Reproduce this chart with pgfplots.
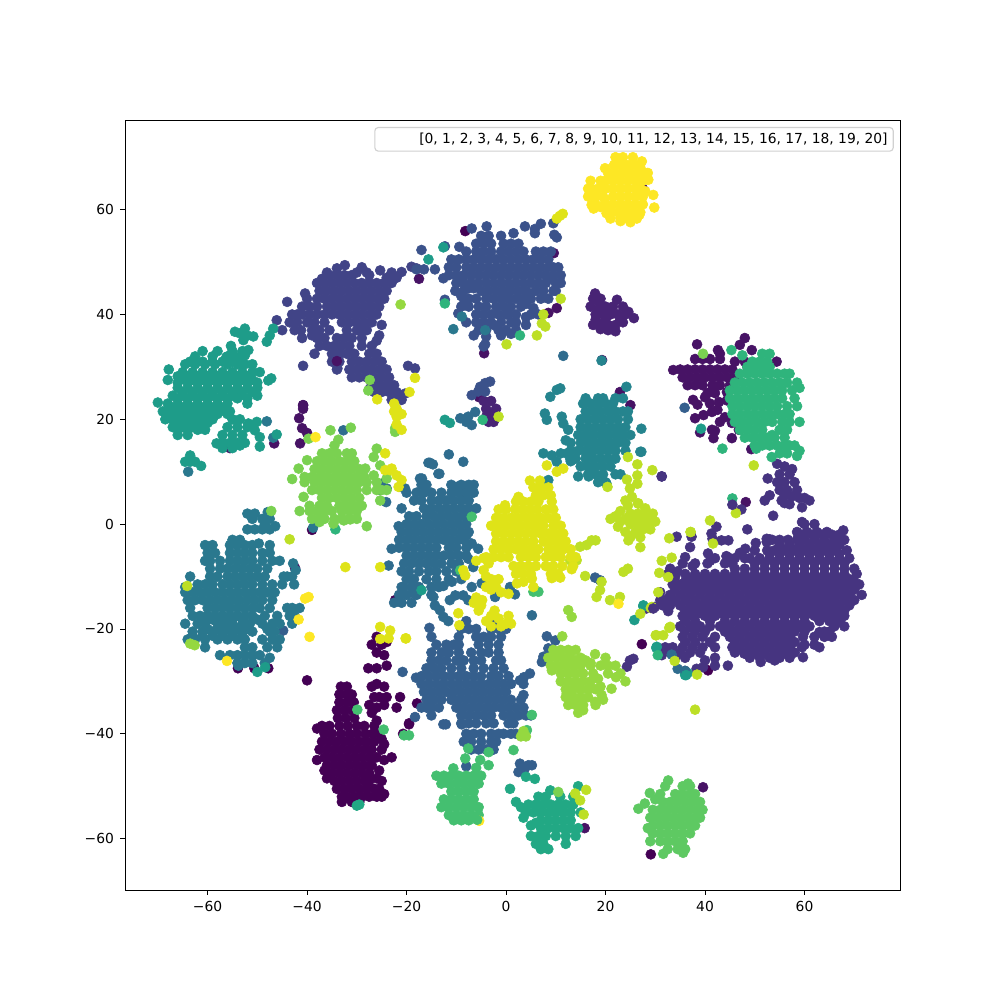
\documentclass[border=0pt]{standalone}
\usepackage{pgfplots}
\pgfplotsset{compat=1.18}
\usepackage{fontspec}
\setmainfont{DejaVu Sans}
\definecolor{c0}{HTML}{440154}
\definecolor{c1}{HTML}{471365}
\definecolor{c2}{HTML}{482475}
\definecolor{c3}{HTML}{463480}
\definecolor{c4}{HTML}{414487}
\definecolor{c5}{HTML}{3B528B}
\definecolor{c6}{HTML}{355F8D}
\definecolor{c7}{HTML}{2F6C8E}
\definecolor{c8}{HTML}{2A788E}
\definecolor{c9}{HTML}{25848E}
\definecolor{c11}{HTML}{1E9C89}
\definecolor{c12}{HTML}{22A884}
\definecolor{c13}{HTML}{2FB47C}
\definecolor{c14}{HTML}{44BF70}
\definecolor{c15}{HTML}{5EC962}
\definecolor{c16}{HTML}{7AD151}
\definecolor{c17}{HTML}{95D840}
\definecolor{c18}{HTML}{BDDF26}
\definecolor{c19}{HTML}{DFE318}
\definecolor{c20}{HTML}{FDE725}
\pgfplotsset{pt/.style={only marks,mark=*,mark size=3.6bp,color=#1,mark options={draw=none,fill=#1},forget plot}}
\begin{document}
\begin{tikzpicture}
\path[use as bounding box] (0,0) rectangle (10in,10in);
\fontsize{10}{12}\selectfont
\begin{axis}[
 at={(1.25in,1.10in)},anchor=south west,
 scale only axis,width=7.75in,height=7.7in,
 xmin=-76.6,xmax=79.2,ymin=-69.8,ymax=77.1,
 xtick={-60,-40,-20,0,20,40,60},xticklabels={−60,−40,−20,0,20,40,60},
 ytick={-60,-40,-20,0,20,40,60},yticklabels={−60,−40,−20,0,20,40,60},
 xtick pos=bottom,ytick pos=left,tick align=outside,
 major tick length=3.5bp,
 every tick/.style={black,line width=0.6bp},
 axis line style={black,line width=0.55bp},
 tick label style={font=\fontsize{10}{12}\selectfont},
 xticklabel style={yshift=-1bp},yticklabel style={xshift=-1bp},
 legend style={at={(0.992,0.991)},anchor=north east,rounded corners=2.5pt,draw=black!18,line width=0.8bp,fill=white,font=\fontsize{10}{12}\selectfont,inner xsep=2bp,inner ysep=2bp},
]
% 0
\addplot[pt=c0] coordinates {(-33.2,-31)(-32,-31)(-33.5,-32.5)(-32,-32.5)(-31,-32.5)(-33.5,-34)(-32,-34)(-30.6,-34)(-34,-35.5)(-32.5,-35.5)(-31,-35.5)(-30.2,-35.5)(-33.8,-37)(-32.2,-37)(-30.5,-37)
(-37,-38.5)(-35.5,-38.5)(-33.5,-38.5)(-31.8,-38.5)(-30,-38.5)(-28.5,-38.5)(-26.5,-38.5)
(-36.5,-40)(-35,-40)(-33.2,-40)(-31.5,-40)(-30,-40)(-28.3,-40)(-26.8,-40)(-25.5,-40)
(-35.5,-41.5)(-34,-41.5)(-32.5,-41.5)(-31,-41.5)(-29.5,-41.5)(-28,-41.5)(-26.5,-41.5)
(-36,-43)(-34.5,-43)(-33,-43)(-31.5,-43)(-30,-43)(-28.5,-43)(-27,-43)
(-36.5,-44.5)(-35,-44.5)(-33.5,-44.5)(-32,-44.5)(-30.5,-44.5)(-29,-44.5)(-27.5,-44.5)(-26,-44.5)(-24.5,-45)(-23,-44.5)
(-36,-46)(-34.5,-46)(-33,-46)(-31.5,-46)(-30,-46)(-28.5,-46)(-27,-46)
(-35,-47.5)(-33.5,-47.5)(-32,-47.5)(-30.5,-47.5)(-29,-47.5)(-27.5,-47.5)
(-34.5,-49)(-33,-49)(-31.5,-49)(-30,-49)(-28.5,-49)(-27.5,-49)
(-32.5,-50.5)(-31,-50.5)(-29.5,-50.5)(-28,-50.5)(-26.5,-50.5)(-25.5,-50.5)
(-32,-52)(-30.5,-52)(-29,-52)(-27.5,-52)(-26,-52)(-31,-53)(-29.5,-53)
(-27,-31)(-26,-30.5)(-24.5,-31)(-26.5,-33)(-25.5,-33)(-24,-33)(-27.5,-34.5)(-26,-35)(-24.5,-34.5)(-22,-35)(-27,-36)(-26,-37.5)
(-27,-23)(-26,-21.5)(-25,-23)(-26,-24.5)(-24,-22.5)(-24.5,-25)(-24,-27)(-27.7,-27.5)(-26,-27.5)
(-19.5,-38)(-20.7,-40)(-22.3,-14.5)(-40,-29.8)(-53.9,-27.5)(-50.6,-27.5)(-47.8,-27.5)(-39,-1.1)
(29.1,-63)(-8.2,55.9)(-8.2,5.9)(40.6,-27.9)(27.3,-22.9)(-21.3,-33)(-17.9,-34.2)(-19.5,-38.2)
(-25,-41)(-24.5,-42)(-25,-43)(-25.5,-47)(-26,-48.5)(-25,-49)(-38,-39)(-37.5,-43)(-38,-45)(-37,-41.5)(-36.5,-47)(-36,-48.5)(-25,-52)(-24.5,-51.5)(-34,-50.5)(-33,-52)(-33,-53)};
% 1
\addplot[pt=c1] coordinates {(48,35.5)(47,34.2)(38.4,34.3)(42.6,33.2)(43,32.5)(49.4,33.2)(54.4,31)
(38,31.5)(39.5,31.5)(41,31.5)(43,31.5)(33.6,29.4)(35,29.5)(36.5,29.5)(38,29.5)(39.5,29.5)(41,29.5)(42.5,29.5)(44,29.5)(45.5,29.5)
(35.5,28)(37,28)(38.5,28)(40,28)(41.5,28)(43,28)(44.5,28)(46,28)(36.5,26.5)(38,26.5)(39.5,26.5)(41.5,26.5)(43,26.5)(45,26.5)(41.4,25.5)(40.5,25)(42,25)
(37.6,23.7)(40,24.2)(44.4,25.2)(44.4,23.6)(38.5,22.8)(41,23)(42.8,23.3)(38,20.2)(39.7,20.8)(41.4,21.4)(42.5,21.8)(43,19.5)(44,20.4)(45.4,19.3)(46.8,18)(41.4,18)(42,17.8)(41.7,16.4)(45.4,16.4)(39,17.5)(49.3,14.3)(48.5,30)(46,31)(48,31)
(-40.8,22.7)(-40.8,22)(-41.6,20.2)(-41,18.3)(-40,17.4)(-41.4,15.4)(-46.6,15.4)(-34,31.1)(-34.6,31)(-17.5,46.8)(-55.5,14.5)(-42.4,-8.4)
(-4.4,32.6)(9.6,51.7)(8.5,40.3)(10.2,41.2)(19.3,31.3)(27.5,64)(22.9,25.2)(25,22.7)(-5.4,24.2)(48.2,4.2)(15.8,-58)(39.6,-50.2)};
% 2
\addplot[pt=c2] coordinates {(17.9,44)(17.5,43)(18.5,42.5)(17,41.5)(18.5,41)(20,41.5)(21.5,41.5)(22.3,42.8)(23.5,41.5)(18,40)(19.5,40)(21,40)(22.5,40)(24,40)(24.6,40.5)(25.7,39.3)(17.5,38)(19,38)(20.5,38)(22,38)(23.5,38.5)(19,37.2)(22,36.8)
(20,39)(21,41)(23,39)(19,43)(18,39)(20.5,37)(19.5,41)
(-4.5,23.5)(-3,23.5)(-2,22)(-4,22)(-3,21)(-1.8,20.5)(-3.5,19.5)(-2.5,19.5)(-4,20.5)};
% 3
\addplot[pt=c3] coordinates {(54.5,11.5)(56,11)(57.5,10.5)(55,9.5)(57,9.5)(54.5,8)(56,8)(58,8)(55,6.5)(56.5,6.5)(58.5,6.5)(56,5.5)(57.5,5.3)(60,5)(61,4.5)(59,5)(56,4)(55.4,4.5)(57,3.8)(59.5,3.2)(52,4.5)(53,5.5)(52.6,8.7)(53.7,1.6)(59.5,0.4)
(60,0)(62,0)(58.5,-1.5)(60.5,-1.5)(62.5,-1.5)(64.5,-1.5)(67.8,-1.2)
(53.5,-3)(55,-3)(56.7,-3)(58.5,-3)(60,-3)(62,-3)(64,-3)(66,-3)(68,-3)
(52.4,-2.8)(52.5,-5)(54,-5)(56,-5)(58,-5)(60,-5)(62,-5)(64,-5)(66,-5)(68.5,-5)
(49,-6.5)(51,-6.5)(53,-6.5)(55,-6.5)(57,-6.5)(59,-6.5)(61,-6.5)(63,-6.5)(65,-6.5)(67,-6.5)(69,-6.5)
(35.5,-7.5)(40.5,-7.5)(44,-7.5)(45.5,-7.5)(46,-8.5)(48,-8.5)(50,-8.5)(52,-8.5)(54,-8.5)(56,-8.5)(58,-8.5)(60,-8.5)(62,-8.5)(64,-8.5)(66,-8.5)(68,-8.5)(70,-8.5)
(36,-9.5)(38,-9.5)(40,-9.5)(42,-9.5)(44,-9.5)(46,-9.5)(48,-9.5)(50,-9.5)(52,-9.5)(54,-9.5)(56,-9.5)(58,-9.5)(60,-9.5)(62,-9.5)(64,-9.5)(66,-9.5)(68,-9.5)(70.5,-9.5)
(33.5,-11.5)(35,-11.5)(37,-11.5)(39,-11.5)(41,-11.5)(43,-11.5)(45,-11.5)(47,-11.5)(49,-11.5)(51,-11.5)(53,-11.5)(55,-11.5)(57,-11.5)(59,-11.5)(61,-11.5)(63,-11.5)(65,-11.5)(67,-11.5)(69,-11.5)(71,-11.5)
(31,-13)(33,-13.5)(35,-13.5)(37,-13.5)(39,-13.5)(41,-13.5)(43,-13.5)(45,-13.5)(47,-13.5)(49,-13.5)(51,-13.5)(53,-13.5)(55,-13.5)(57,-13.5)(59,-13.5)(61,-13.5)(63,-13.5)(65,-13.5)(67,-13.5)(69,-13.5)(71.5,-13.5)
(31.5,-15.5)(33,-15.5)(35,-15.5)(37,-15.5)(39,-15.5)(41,-15.5)(43,-15.5)(45,-15.5)(47,-15.5)(49,-15.5)(51,-15.5)(53,-15.5)(55,-15.5)(57,-15.5)(59,-15.5)(61,-15.5)(63,-15.5)(65,-15.5)(67,-15.5)(69,-15.5)
(35.5,-17.5)(37.5,-17.5)(40,-17.5)(42,-17.5)(44,-17.5)(46,-17.5)(48,-17.5)(50,-17.5)(52,-17.5)(54,-17.5)(56,-17.5)(58,-17.5)(60,-17.5)(62,-17.5)(64,-17.5)(66,-17.5)(68,-17.5)
(35,-19.5)(37,-19.5)(39,-19.5)(41,-19.5)(43,-19.5)(45,-19.5)(47,-19.5)(49,-19.5)(51,-19.5)(53,-19.5)(55,-19.5)(57,-19.5)(59,-19.5)(61,-19.5)(63,-20.6)(66,-19.5)(68,-19.5)
(35.5,-21.5)(37.5,-21.5)(39.5,-21.5)(42,-21.5)(45,-21.5)(47,-21.5)(49,-21.5)(51,-21.5)(53,-21.5)(55,-21.5)(57,-21.5)(59.7,-21.5)(62,-21.5)(64,-21.5)(65.5,-21.5)
(32,-23.5)(33.5,-23.5)(35.5,-23.5)(37.5,-23.5)(39.5,-23.5)(42,-23.5)(45.5,-23.5)(47,-23.5)(49,-23.5)(51,-23.5)(53,-23.5)(55,-23.5)(57,-23.5)(59.5,-23.5)(63,-23.5)
(31.3,-25)(34,-25.5)(36,-25.5)(40,-26)(42,-25.5)(47.9,-24.7)(49,-25.5)(51,-25.5)(53,-25.5)(55,-25.5)(57,-25.5)(59.7,-25.4)
(51.2,-26.3)(54,-26)(44.6,-27)(42,-27)(36,-28)(38.3,-27.6)(39.6,-27.3)
(37.3,-2.4)(37,-4.4)(36,-6.3)(34.3,-2.4)(40.6,-5.6)(41.3,-1.8)(41.5,-2.8)(43.3,-3.1)(44.7,-3.1)(48.5,-1)(50.2,-3.6)(44.3,-6.1)(48.1,-4.7)(52.4,-3.4)(53,-2.9)(42.3,-0.5)
(32.6,-16.6)(29.9,-15.8)(28.2,-16.1)(31.3,9.1)(47.3,2.8)(24.9,-26)(25.6,-25.7)(24.3,-27.2)(32.6,-9.5)(33,-8.5)(34.5,-9)(34,-10)(31,-14.5)
(59.5,-2)(61.5,-2)(63.5,-2)(65.5,-2)(67,-2)(55,-4)(57,-4)(59,-4)(61,-4)(63,-4)(65,-4)(67,-4)(53,-5.7)(55,-5.7)(57,-5.7)(59,-5.7)(61,-5.7)(63,-5.7)(65,-5.7)(67,-5.7)
(50,-7.5)(52,-7.5)(54,-7.5)(56,-7.5)(58,-7.5)(60,-7.5)(62,-7.5)(64,-7.5)(66,-7.5)(68,-7.5)
(37,-10.5)(39,-10.5)(41,-10.5)(43,-10.5)(45,-10.5)(47,-10.5)(49,-10.5)(51,-10.5)(53,-10.5)(55,-10.5)(57,-10.5)(59,-10.5)(61,-10.5)(63,-10.5)(65,-10.5)(67,-10.5)(69,-10.5)
(34,-12.5)(36,-12.5)(38,-12.5)(40,-12.5)(42,-12.5)(44,-12.5)(46,-12.5)(48,-12.5)(50,-12.5)(52,-12.5)(54,-12.5)(56,-12.5)(58,-12.5)(60,-12.5)(62,-12.5)(64,-12.5)(66,-12.5)(68,-12.5)(70,-12.5)
(32,-14.5)(34,-14.5)(36,-14.5)(38,-14.5)(40,-14.5)(42,-14.5)(44,-14.5)(46,-14.5)(48,-14.5)(50,-14.5)(52,-14.5)(54,-14.5)(56,-14.5)(58,-14.5)(60,-14.5)(62,-14.5)(64,-14.5)(66,-14.5)(68,-14.5)(70,-14.5)
(36,-16.5)(38,-16.5)(40,-16.5)(42,-16.5)(44,-16.5)(46,-16.5)(48,-16.5)(50,-16.5)(52,-16.5)(54,-16.5)(56,-16.5)(58,-16.5)(60,-16.5)(62,-16.5)(64,-16.5)(66,-16.5)(68,-16.5)
(36,-18.5)(38,-18.5)(41,-18.5)(44,-18.5)(46,-18.5)(48,-18.5)(50,-18.5)(52,-18.5)(54,-18.5)(56,-18.5)(58,-18.5)(60,-18.5)(63,-18.5)(65,-18.5)(67,-18.5)
(36,-20.5)(38,-20.5)(40,-20.5)(44,-20.5)(46,-20.5)(48,-20.5)(50,-20.5)(52,-20.5)(54,-20.5)(56,-20.5)(58,-20.5)(60,-20.5)(64,-20.5)
(36,-22.5)(38,-22.5)(41,-22.5)(46,-22.5)(48,-22.5)(50,-22.5)(52,-22.5)(54,-22.5)(56,-22.5)(58,-22.5)
(33,-24.5)(35,-24.5)(37,-24.5)(39,-24.5)(46,-24.5)(48,-24.5)(50,-24.5)(52,-24.5)(54,-24.5)(56,-24.5)(58,-24.5)
(36,-11)(38,-11)(40,-11)(42,-11)(44,-11)(46,-11)(48,-11)(50,-11)(52,-11)(54,-11)(56,-11)(58,-11)(60,-11)(62,-11)(64,-11)(66,-11)(68,-11)(70,-11)
(37,-17)(39,-17)(41,-17)(43,-17)(45,-17)(47,-17)(49,-17)(51,-17)(53,-17)(55,-17)(57,-17)(59,-17)(61,-17)(63,-17)(65,-17)(67,-17)
(47,-5.5)(46,-6.5)(50,-5)(48,-6.5)(45,-6.5)(42,-6.5)(41,-7)(38,-7.5)(37.5,-8)(62,-23)(60,-23)(65,-20.5)};
% 4
\addplot[pt=c4] coordinates {(-32.4,49.4)(-34,48.8)(-37,46.8)(-35.5,47.5)(-34,47.5)(-32.5,47.5)(-31,47.5)(-27.5,47.5)(-25.3,48.4)
(-38,46)(-36.5,46)(-35,46)(-33.5,46)(-32,46)(-30.5,46)(-29,46)(-27.5,46)(-26,46)(-24.5,46)(-23,46)(-21,48.1)
(-37.5,44.5)(-36,44.5)(-34.5,44.5)(-33,44.5)(-31.5,44.5)(-30,44.5)(-28.5,44.5)(-27,44.5)(-25.5,44.5)(-24,44.5)
(-40.4,44)(-38,43)(-36.5,43)(-35,43)(-33.5,43)(-32,43)(-30.5,43)(-29,43)(-27.5,43)(-26,43)(-24.5,43)
(-44,42.4)(-41,41.5)(-39.5,41.5)(-38,41.5)(-36,41.5)(-34.5,41.5)(-33,41.5)(-31.5,41.5)(-30,41.5)(-28.5,41.5)(-27,41.5)(-25.5,41.5)
(-41,40)(-39.5,40)(-38,40)(-36.5,40)(-35,40)(-33.5,40)(-32,40)(-30.5,40)(-29,40)(-27.5,40)(-26,40)
(-46.1,38.9)(-43.5,38.5)(-42,38.5)(-40,38.5)(-38.5,38.5)(-36.5,38.5)(-33,38.5)(-31.5,38.5)(-30,38.5)(-28.5,38.5)(-27,38.5)
(-45,37)(-42.5,37)(-41.2,37)(-39,37)(-37.5,37)(-35.5,37)(-32,37)(-30,37)(-29,37)(-28,37)
(-38,35.5)(-36.5,35.5)(-34,35.5)(-32.5,35.5)(-31,35.5)(-29,35.5)
(-37.5,34)(-36,34)(-34.5,34)(-33,34)(-31.5,34)(-29,34)(-27,34)(-38.5,32.5)(-35,32.5)(-33.5,32.5)(-32,32.5)(-30.5,32.5)(-27.5,32.5)(-26,32.5)
(-35,31)(-33.5,31)(-31,31)(-29.5,31)(-28,31)(-26.5,31)(-25,31)(-34,29.5)(-31.5,29.5)(-30,29.5)(-28.5,29.5)(-27,29.5)(-25.5,29.5)(-24,29.5)
(-33.9,29.7)(-31,28)(-29.5,28)(-28,28)(-26.5,28)(-25,28)(-23.5,28)(-27,26.5)(-25.5,26.5)(-24,26.5)(-22.5,26.5)(-26.5,25.2)(-25,25.2)(-23.5,25.2)(-22,25.2)(-27.4,25.8)(-23,23.7)(-22,23.7)(-21,23.7)(-21.7,24.6)(-20.3,24.9)
(-40.8,30.2)(-19,49.1)(-18,48.8)(-19.7,30.2)(-18.3,29.7)
(-24,47)(-22,47)(-23,48)(-40,43)(-42,40)(-43,40)(-41,35.5)(-39,36)(-28,48)(-30,48)(-29,49)(-36,48)(-25,38)(-25.5,36)(-26,35)};
% 5
\addplot[pt=c5] coordinates {(-3.9,56.8)(-5,55)(-3.5,55)(-1,55)(1.5,55.5)(-6,53.5)(-4.5,53.5)(-3,53.5)(-0.5,53.5)(1,53.5)(2.5,53.5)
(-9.4,52.9)(-8,52)(-6,52)(-4.5,52)(-3,52)(-1,52)(0.5,52)(2,52)(3.5,52)(6,52)(7.5,52)(9,52)
(-11,50.5)(-9.5,50.5)(-8,50.5)(-6.5,50.5)(-5,50.5)(-3.5,50.5)(-2,50.5)(-0.5,50.5)(1,50.5)(2.5,50.5)(4,50.5)(5.5,50.5)(7,50.5)(8.5,50.5)
(-11.5,49)(-10,49)(-8,49)(-6.5,49)(-5,49)(-3.5,49)(-2,49)(-0.5,49)(1,49)(2.5,49)(4,49)(5.5,49)(7,49)(8.5,49)(9.5,49)
(-11.5,47.5)(-10,47.5)(-8.5,47.5)(-7,47.5)(-5.5,47.5)(-4,47.5)(-2.5,47.5)(-1,47.5)(0.5,47.5)(2,47.5)(3.5,47.5)(5,47.5)(6.5,47.5)(8,47.5)(9.5,47.5)
(-10,46)(-8.5,46)(-7,46)(-5.5,46)(-4,46)(-2.5,46)(-1,46)(0.5,46)(2,46)(3.5,46)(5,46)(6.5,46)(8,46)(10,46)
(-5,44.5)(-3.5,44.5)(-2,44.5)(-0.5,44.5)(1,44.5)(2.5,44.5)(6,44.5)(7.5,44.5)(9.5,44.5)(-9.6,46.6)
(-7.5,43)(-6,43)(-4,43)(-2.5,43)(-1,43)(0.5,43)(2,43)(7,43)(8.5,43)
(-7.5,41.5)(-5.5,41.5)(-4,41.5)(-2,41.5)(1,41.5)(3,41.5)(5.5,41.2)
(-6,40)(-4.5,40)(-3,40)(-1.5,40)(0.5,40)(2,40)(5,40)(6.5,40)
(-9.6,40.2)(-8,38.5)(-6,38.5)(-4.5,38.5)(-3,38.5)(-1,38.5)(1,38.5)(2,38.5)
(-5.5,37)(-4,37)(-1.5,37)(0,37)(2,37)
(3.8,56.8)(5.8,55.5)(5.8,56.3)(7,57.3)(9.5,57.4)(9.7,55.2)(10.2,54.7)(-6.9,56.4)(-10.2,44.5)(-12.3,42.8)(-12.6,46.9)(-17,52.3)(-12.3,53)(-14.3,48.6)(-16.5,48.6)(-18,48.6)(-4.5,33.9)(-4.2,34.3)
(-5.2,26.2)(-4.2,26.9)(-3.2,27.2)(-5.6,25.3)(-4.2,25.3)(-6.9,24.6)
(4,44.5)(5,43)(4,42)(5,44)(3.5,43)(9,47)(11,47.5)(10.5,49)(11,46)(10,44.5)(-8.5,44.5)(-7.5,45)(-6.5,45)(-9,43.5)(-8.5,42)(-9,41.5)(-6.5,36)(-4,35.8)(-1,36)(1,36.3)(-2.5,38)(0,40)(-0.5,41.5)(4,39.5)(4,38)(-0.5,43.5)};
% 6
\addplot[pt=c6] coordinates {(-8,-18.5)(-3,-18.5)(-1.9,-19)(-9,-20)(-7.5,-20)(-6,-20)(-3,-20)(-1.5,-20)(0,-20)
(-15,-21.5)(-9.5,-21.5)(-6,-21.5)(-4.5,-21.5)(-3,-21.5)(-1,-21.5)(-14,-23)(-12,-23)(-10.5,-23)(-9.5,-23)(-5.5,-23)(-3.5,-23)(-1.5,-23)
(-15,-24.5)(-13,-24.5)(-11.5,-24.5)(-9.5,-24.5)(-7,-24.5)(-5,-24.5)(-3.5,-24.5)(-1.5,-24.5)
(-15,-26)(-13.5,-26)(-12,-26)(-10,-26)(-8.5,-26)(-6.5,-26)(-5,-26)(-2,-26)(-1,-26)
(-16,-27.5)(-14.5,-27.5)(-13,-27.5)(-11,-27.5)(-9,-27.5)(-6.5,-27.5)(-4.5,-27.5)(-2.5,-27.5)(-0.5,-27.5)
(-17,-29)(-15.5,-29)(-14,-29)(-12.5,-29)(-11,-29)(-9.5,-29)(-8,-29)(-6.5,-29)(-5,-29)(-3,-29)(-1.5,-29)(0.5,-29)
(-17,-30.5)(-15.5,-30.5)(-14,-30.5)(-12.5,-30.5)(-11,-30.5)(-9.5,-30.5)(-8,-30.5)(-6.5,-30.5)(-5,-30.5)(-3.5,-30.5)(-2,-30.5)(-0.5,-30.5)(1,-30.5)(3.5,-30.5)
(-16.5,-32)(-15,-32)(-13.5,-32)(-12,-32)(-10.5,-32)(-9,-32)(-7.5,-32)(-6,-32)(-4.5,-32)(-3,-32)(-1.5,-32)(0,-32)
(-16,-33.5)(-14.5,-33.5)(-13,-33.5)(-11,-33.5)(-9.5,-33.5)(-8,-33.5)(-6.5,-33.5)(-5,-33.5)(-3.5,-33.5)(-2,-33.5)(-0.5,-33.5)(1,-33.5)(3,-33.5)
(-17,-35)(-16,-35)(-15,-35)(-13.5,-35)(-10,-35)(-8.5,-35)(-7,-35)(-5.5,-35)(-4,-35)(-2.5,-35)(-1,-35)(0.5,-35)(2,-35)(3.5,-35)
(-15,-36.5)(-9,-36.5)(-7.5,-36.5)(-6,-36.5)(-4.5,-36.5)(-3,-36.5)(-0.5,-36.5)(1,-36.5)(2.5,-36.5)(4,-36.5)(5,-36.5)
(-9,-38)(-7.5,-38)(-6,-38)(-4,-38)(-2.5,-38)(0.5,-38)(1.5,-38)(-12.1,-38.2)(-12.6,-38.2)(-8.9,-38.2)
(-8,-40)(-6.5,-40)(-5,-40)(-3,-40)(-1.5,-40)(-0.5,-40)(1,-40)(2,-40)(-8.5,-41.5)(-7,-41.5)(-5,-41.5)(-3,-41.5)(-2,-41.5)(-7,-43)(-5.5,-43)(-4,-43)(-2.5,-43)(-8,-46.2)
(4.8,-28.5)(3.6,-29.2)(2.8,-29.8)(-18.1,-29.3)(-20.8,-28.2)(-18.3,-36.8)(3.5,-32.6)
(2.8,-45.7)(4.5,-46)(2.5,-47.3)(5.2,-46)(3.7,-46.8)(8.2,-21.4)(9.9,-22.2)(8.5,-23.7)(7.5,-25.3)(7.2,-26.3)
(17.9,-10.2)(18.9,-10.7)(-15.4,-19.8)(-44.8,-20.3)(35.9,22.2)};
% 7
\addplot[pt=c7] coordinates {(-11.5,13.3)(-15.6,11.7)(-14.7,11.4)(-13.4,9.6)(-16.9,8.7)(-21.3,7.1)(-20.3,6.8)(-8.6,11.9)
(-17,7.5)(-16,7.5)(-11,7.5)(-9,7.5)(-7.5,7.5)(-6.5,7.5)(-20,6)(-18,6)(-16.5,6)(-15,6)(-13,6)(-11,6)(-9.5,6)(-8,6)(-6.5,6)
(-18.5,4.5)(-17,4.5)(-15,4.5)(-13.5,4.5)(-12,4.5)(-10.5,4.5)(-9,4.5)(-7.5,4.5)(-21,3)(-16.5,3)(-15,3)(-13.5,3)(-12,3)(-10.5,3)(-9,3)(-7.5,3)(-6,3)
(-19.5,1.5)(-18,1.5)(-16,1.5)(-14.5,1.5)(-13,1.5)(-11.5,1.5)(-10,1.5)(-8.5,1.5)(-7,1.5)
(-20,0)(-18.5,0)(-17,0)(-15.5,0)(-14,0)(-12.5,0)(-11,0)(-9.5,0)(-8,0)
(-21.6,-0.4)(-21,-1.5)(-19.5,-1.5)(-18,-1.5)(-16.5,-1.5)(-15,-1.5)(-13.5,-1.5)(-12,-1.5)(-10.5,-1.5)(-9,-1.5)(-7.5,-1.5)
(-23,-4.7)(-21.5,-3)(-20,-3)(-18.5,-3)(-17,-3)(-15.5,-3)(-14,-3)(-12.5,-3)(-11,-3)(-9.5,-3)(-8.5,-3)
(-21.5,-4.5)(-20,-4.5)(-18.5,-4.5)(-17,-4.5)(-15.5,-4.5)(-14,-4.5)(-11.5,-4.5)(-10,-4.5)(-8,-4.5)
(-20,-6)(-18.5,-6)(-17,-6)(-15.5,-6)(-14,-6)(-12.5,-6)(-11,-6)(-9.5,-6)(-8,-6)
(-20.5,-7.5)(-19,-7.5)(-17.5,-7.5)(-16,-7.5)(-14.5,-7.5)(-13,-7.5)(-11,-7.5)(-9.5,-7.5)(-23.6,-7.9)
(-21,-9)(-19.5,-9)(-17.5,-9)(-15.5,-9)(-14,-9)(-12,-9)(-10,-9)(-20,-10.5)(-18.5,-10.5)(-16,-10.5)(-14,-10.5)(-11.5,-10.5)(-9,-10.5)
(-21,-12)(-19,-12)(-17.5,-12)(-15,-12)(-13.5,-12)(-21.5,-13.5)(-20,-13.5)(-18,-13.5)(-15,-13.5)(-22.5,-15)(-21,-15)(-19,-15)
(-20.6,-12)(-18.6,-13.2)(-14.6,-13.9)(-12.6,-11.8)(-10.9,-11)(-11.3,-14.5)(-10.2,-13.6)(-8.6,-13.6)(-7.6,-14.5)(-6.9,-12)(-4.9,-11.3)(-2.2,-13.9)(0.8,-12)(1.8,-13.4)(-13.3,-16.4)(-12.6,-17.7)(-11.6,-18.5)(-14.3,-15.5)(5.2,-17.4)
(-6.9,-3.7)(-5.6,-4.7)(-7.6,-6.6)(-6.6,-8.2)(-7.9,-2.1)(-9.9,7.1)(-15.3,11.7)(-13.6,9.6)(-17.3,8.7)
(-25,7.7)(-24,6.8)(-25.3,6.5)(-24.1,4.2)(-32.7,17.9)(33.3,-24.9)(34.5,-27.6)(-9.2,20.2)(-7.6,20.5)(-6.2,21.4)(-6.9,18.9)(-8,19.5)(11.5,32.1)};
% 8
\addplot[pt=c8] coordinates {(-52,2)(-50.5,2)(-47.9,2.3)(-51,1)(-49,1)(-47.5,1)(-48.5,0)(-46.4,-0.4)(-52,-1)(-50.5,-1)(-49,-1)(-47.5,-1)(-55,-3)(-53.5,-3)(-49.7,-3.7)
(-60.5,-4)(-59,-4)(-55.5,-4)(-54,-4)(-52.5,-4)(-51,-4)(-47.5,-4)(-60,-5.5)(-58.5,-5.5)(-55.5,-5.5)(-54,-5.5)(-52.5,-5.5)(-51,-5.5)(-49,-5.5)(-47.5,-5.5)
(-60.5,-7)(-59.5,-7)(-57.5,-7)(-55.5,-7)(-54,-7)(-52.5,-7)(-51,-7)(-49,-7)(-47,-7)(-45.5,-7)(-59.5,-8.5)(-57.5,-8.5)(-56,-8.5)(-54.5,-8.5)(-53,-8.5)(-51.5,-8.5)(-50,-8.5)(-48,-8.5)
(-63.5,-10)(-59.5,-10)(-58,-10)(-56,-10)(-54.5,-10)(-53,-10)(-51.5,-10)(-50,-10)(-48.5,-10)(-44,-10)(-43,-10)
(-62,-11.5)(-60.5,-11.5)(-59,-11.5)(-57,-11.5)(-55.5,-11.5)(-54,-11.5)(-52.5,-11.5)(-51,-11.5)(-49,-11.5)(-47,-11.5)(-45,-11.5)(-42.6,-11.5)
(-64.5,-13)(-63,-13)(-61.5,-13)(-60,-13)(-58.5,-13)(-57,-13)(-55.5,-13)(-54,-13)(-52.5,-13)(-51,-13)(-49.5,-13)(-48,-13)(-46.5,-13)
(-64,-14.5)(-62.5,-14.5)(-61,-14.5)(-59.5,-14.5)(-58,-14.5)(-56.5,-14.5)(-55,-14.5)(-53.5,-14.5)(-52,-14.5)(-50.5,-14.5)(-49,-14.5)(-47,-14.5)
(-63.5,-16)(-60,-16)(-58.5,-16)(-57,-16)(-55.5,-16)(-54,-16)(-52.5,-16)(-51,-16)(-49.5,-16)(-47.5,-16)(-44,-16)(-43,-16)(-41.5,-16)
(-63,-17.5)(-61.5,-17.5)(-60,-17.5)(-58.5,-17.5)(-57,-17.5)(-55.5,-17.5)(-54,-17.5)(-52.5,-17.5)(-51,-17.5)(-48.5,-17.5)(-46,-17.5)(-43.5,-17.5)(-42.5,-17.5)
(-64.5,-19)(-62,-19)(-60.5,-19)(-58,-19)(-56.5,-19)(-55,-19)(-53,-19)(-51.5,-19)(-49,-19)(-47,-19)(-45.5,-19)(-43,-19)
(-63,-20.5)(-61,-20.5)(-59,-20.5)(-57,-20.5)(-55,-20.5)(-53,-20.5)(-51,-20.5)(-47.5,-20.5)(-46.5,-20.5)
(-64,-22)(-62.5,-22)(-60.5,-22)(-58,-22)(-56,-22)(-54,-22)(-52.5,-22)(-49,-22)(-47,-22)(-45.5,-22)
(-60.5,-23.5)(-52.5,-23.5)(-51,-23.5)(-48,-23.5)(-46,-23.5)(-57.5,-25)(-55.5,-25)(-54,-25)(-52.5,-25)(-51,-25)(-49.5,-25)(-47.5,-25.5)
(-54,-26.5)(-52.5,-26.5)(-51,-26.5)(-48.5,-26.5)(-53.8,-27)
(-42.8,-7.5)(-42.3,-8.8)(-44.7,-10)(-38.8,-0.7)(-64.5,-12)(-48.1,19.6)(-46.8,16.5)(-63.9,10)(-10.6,37.2)(-8.9,39.6)(-4.2,37)
(-61,-18.2)(-59,-18.2)(-57,-18.2)(-55,-18.2)(-53,-18.2)(-50,-18.2)(-60,-20)(-58,-20)(-56,-20)(-54,-20)(-52,-20)(-48,-20)(-63,-21.3)(-61,-21.3)(-59,-21.3)(-57,-21.3)(-55,-21.3)(-53,-21.3)};
% 9
\addplot[pt=c9] coordinates {(16,24)(18.5,24)(19.5,24)(22,24)(24.2,26.2)(15.5,23)(17,23)(18.5,23)(20,23)(21.5,23)(23.5,24)
(16,21.5)(17.5,21.5)(19,21.5)(20.5,21.5)(22,21.5)(23.5,21.5)(24.5,21.5)(15,20)(16.5,20)(18,20)(19.5,20)(21,20)(22.5,20)(24.5,20)
(15,18.5)(16.5,18.5)(18,18.5)(19.5,18.5)(21,18.5)(22.5,18.5)(24,18.5)(14.5,17)(16,17)(17.5,17)(19,17)(20.5,17)(22,17)(23.5,17)(25,17)
(13,15.5)(15,15.5)(16.5,15.5)(18,15.5)(19.5,15.5)(21,15.5)(22.5,15.5)(24,15.5)(13,14)(14.5,14)(16,14)(17.5,14)(19,14)(20.5,14)(22,14)(24,14)
(14,12.5)(16,12.5)(17.5,12.5)(19,12.5)(20.5,12.5)(22,12.5)(15,11)(16.5,11)(18,11)(19.5,11)(21,11)(16.5,9.5)(18,9.5)(19.5,9.5)(22,9.5)(23,9.5)(20,8)(18.5,8)
(8.9,24.3)(10.2,25.6)(10.9,25.9)(7.8,21.1)(8.2,19.9)(11.2,20.5)(11.5,19.2)(8.5,8.4)(7.5,13.5)(9.2,13.1)(10.2,11.9)(12.9,12.5)(14.5,9.1)(16.6,9.1)(12.2,13.5)(16.2,13.1)(17.6,10.9)(20.2,7.7)(27,13.8)(12.5,18)(12,16)(11,13.5)(13,12)(19.2,31.2)(27.2,18.2)(27.2,13.8)};
% 11
\addplot[pt=c11] coordinates {(-54.5,36.7)(-53.5,36.4)(-52.5,37.3)(-50.8,35.8)(-52.8,35.1)(-52,36)(-55.3,34)(-46.8,37.3)(-47.5,36)(-48.1,34.8)(-51.8,33.2)(-52.5,32.2)(-56.2,31.9)(-54.5,32)
(-62.5,32)(-59,32)(-56,32)(-53,32)(-64.5,30.5)(-62.5,30.5)(-60.5,30.5)(-58.5,30.5)(-56,30.5)(-54,30.5)(-52.5,30.5)(-51,30.5)(-67.8,29.5)
(-65,29)(-63,29)(-61,29)(-59,29)(-57,29)(-55,29)(-53,29)(-51,29)(-49.5,29)(-68,27.5)(-65.5,27.5)(-63,27.5)(-61,27.5)(-59,27.5)(-57,27.5)(-55,27.5)(-53,27.5)(-51,27.5)
(-66,26)(-64,26)(-62,26)(-60,26)(-58,26)(-56,26)(-54,26)(-52,26)(-50,26)(-67,24.5)(-65,24.5)(-63,24.5)(-61,24.5)(-59,24.5)(-57,24.5)(-55,24.5)(-53.5,24.5)(-50,24.5)(-47.8,27.4)(-47.2,27.8)
(-70,23.2)(-68,23)(-66,23)(-64,23)(-62,23)(-60,23)(-58,23)(-56,23)(-52,23)(-69,21.5)(-67.5,21.5)(-65.5,21.5)(-63.5,21.5)(-61.5,21.5)(-59.5,21.5)(-57.5,21.5)(-55.5,21.5)
(-68.5,20)(-67,20)(-65,20)(-63,20)(-61,20)(-59,20)(-55,20)(-53.5,20)(-67,18.5)(-65,18.5)(-63,18.5)(-61,18.5)(-56,18.5)(-54,18.5)(-52,18.5)(-66,17)(-64,17)(-60.5,18)(-57,17)(-55,17)(-53,17)
(-57,15.5)(-55.5,15.5)(-54,15.5)(-52.5,15.5)(-57,14.5)(-55,14.5)(-53.5,15)(-58.2,15.4)(-51.1,18.9)(-50.1,19.5)(-50.5,17.9)(-49.5,16.6)(-49.5,14.8)(-51.8,19.2)
(-63.5,13.1)(-64.5,11.9)(-63.5,11.9)(-62.5,11.9)(-61.3,11.1)(-46.1,17.1)
(-12.3,19.9)(-11.3,19.3)(-12.6,52.8)(-15.6,50.5)(39.2,18.2)(36,-28.8)(36.5,-28.4)(30.2,-23.6)(27.6,-15.7)(25.8,-18.3)(27.6,-15.5)(30.3,-23.4)(36,-28.5)(-17,-12.6)(-48.4,-27.3)(-50,-28.2)
(-66,28.2)(-64,28.2)(-62,28.2)(-60,28.2)(-58,28.2)(-56,28.2)(-54,28.2)(-52,28.2)(-65,25.2)(-63,25.2)(-61,25.2)(-59,25.2)(-57,25.2)(-55,25.2)(-53,25.2)(-51,25.2)(-67,22.2)(-65,22.2)(-63,22.2)(-61,22.2)(-59,22.2)(-57,22.2)(-66,19.3)(-64,19.3)(-62,19.3)(-60,19.3)
(-63.5,31)(-61,31)(-59,31)(-57,31)(-55,31)(-66,24)(-64,24)(-62,24)(-60,24)(-58,24)(-56,24)(-54,24)(-52,24)(-66,27)(-64,27)(-62,27)(-60,27)(-58,27)(-56,27)(-54,27)(-52,27)(-50,27)(-68,21)(-66,21)(-64,21)(-62,21)(-60,21)(-58,21)(-56,21)(-66,18)(-64,18)(-62,18)(-61,33)(-58,33)(-55,33)(-53,33)};
% 12
\addplot[pt=c12] coordinates {(0.8,-50.5)(2,-53)(4,-48.2)(5.8,-48.6)(8.9,-50.8)(14.5,-50)(6.5,-52)(8,-52)(10.9,-52)(13.5,-52)(4.5,-53.5)(6,-53.5)(7.5,-53.5)(9,-53.5)(10.5,-53.5)(12,-53.5)(13.5,-53.5)
(4,-55)(5.5,-55)(7,-55)(8.5,-55)(10,-55)(11.5,-55)(13,-55)(7,-56.5)(8.5,-56.5)(10,-56.5)(11.5,-56.5)(13,-56.5)(7,-58)(8.5,-58)(10,-58)(11.5,-58)(13,-58)(14.5,-58)
(5,-59.5)(6.5,-59.5)(8,-59.5)(10,-59.5)(12,-59.5)(14,-59.5)(6,-61)(7.5,-61)(12,-61)(7,-62)(8.5,-62)(-29.5,-53.5)(-30,-53.7)
(3,-54)(6,-57)(5,-57.5)(15,-55)(3.5,-56)};
% 13
\addplot[pt=c13] coordinates {(51.5,32.5)(53,32.5)(45.3,33.2)(47.5,32.2)(49.5,31)(51,31)(52.5,31)(48.5,30)(50,30)(51.5,30)(53,30)
(47,28.7)(48.5,28.7)(50,28.7)(51.5,28.7)(53,28.7)(54.5,28.7)(56,28.7)(57,28.7)(46,27)(47.5,27)(49,27)(50.5,27)(52,27)(53.5,27)(55,27)(56.5,27)(58.5,27)
(45,25.5)(46.5,25.5)(48,25.5)(49.5,25.5)(51,25.5)(52.5,25.5)(54,25.5)(55.5,25.5)(57.5,25.5)(45,24)(46.5,24)(48,24)(49.5,24)(51,24)(52.5,24)(54,24)(55.5,24)
(45.5,22.5)(47,22.5)(48.5,22.5)(50,22.5)(51.5,22.5)(53,22.5)(54.5,22.5)(56.5,22.5)(58.5,22.5)(45.5,21)(47,21)(48.5,21)(50,21)(51.5,21)(53,21)(54.5,21)
(46,19.5)(47.5,19.5)(49,19.5)(50.5,19.5)(52,19.5)(53.5,19.5)(55.5,19.5)(57,19.5)(59,19.5)(47,18)(48.5,18)(50,18)(51.5,18)(56.5,18)
(48,16.5)(49.5,16.5)(51,16.5)(52.5,16.5)(56,16.5)(50,15)(51.5,15)(53,15)(54.5,15)(56,15)(57,15)(50.3,14.4)(53.4,12.8)(55,13.5)(56.5,13.5)(58.5,13)(43.5,14.4)
(45.5,4.9)(-4.7,19.9)(2.8,36)(-12.3,42.1)(-34.3,-1)(30.5,-25)
(58,24)(59,26)(57,21)(56,21)(55,18)(53.5,17)(54,16.5)(58,15)(59,14)};
% 14
\addplot[pt=c14] coordinates {(-3.5,-43.5)(-5.2,-45)(-3.5,-46)(-8.2,-44.7)(-7.6,-42.8)(-10.6,-46.6)(-6,-46.5)
(-14,-48)(-12.5,-48)(-11,-48)(-9.5,-48)(-8,-48)(-6.5,-48)(-5,-48)(-13,-49.5)(-11.5,-49.5)(-10,-49.5)(-8.5,-49.5)(-7,-49.5)(-5.5,-49.5)
(-11,-51)(-9.5,-51)(-8,-51)(-6.5,-51)(-12.5,-52.5)(-11,-52.5)(-9.5,-52.5)(-8,-52.5)(-6.5,-52.5)(-13,-54)(-11.5,-54)(-10,-54)(-8.5,-54)(-7,-54)(-5.5,-54)
(-11.5,-55.5)(-10,-55.5)(-8.5,-55.5)(-7,-55.5)(-5.5,-55.5)(-10.5,-56.5)(-9,-56.5)(-7.5,-56.5)
(-20.5,-40.3)(-19.5,-40.3)(-29.9,-35.4)(-24.6,-39.2)(6.5,-12.9)(5.5,-12.9)(4.2,-39.3)(1.5,-43.1)(5.2,-36.4)(-6.9,1.4)(-9.2,-8.8)};
\addplot[pt=c20] coordinates {(-5.4,-56.6)};
\addplot[pt=c14] coordinates {(-5.8,-56.4)};
% 15
\addplot[pt=c15] coordinates {(32.6,-48.9)(36.6,-49.5)(35.5,-50)(37,-50)(34,-51.5)(35.5,-51.5)(37,-51.5)(28.9,-51.3)(27.9,-53.3)(26.6,-54.3)
(31.5,-53)(33,-53)(34.5,-53)(36,-53)(37.5,-53)(39,-53)(29.5,-54.5)(31,-54.5)(32.5,-54.5)(34,-54.5)(35.5,-54.5)(37,-54.5)(38.5,-54.5)(39.5,-54.5)
(29,-56)(30.5,-56)(32,-56)(33.5,-56)(35,-56)(36.5,-56)(38,-56)(39,-56)(29.5,-57.5)(31,-57.5)(32.5,-57.5)(34,-57.5)(35.5,-57.5)(37,-57.5)(38,-57.5)
(29.5,-59)(31,-59)(32.5,-59)(34,-59)(35.5,-59)(37,-59)(29,-60.5)(31,-60.5)(32.5,-60.5)(34,-60.5)(35.5,-60.5)(32.5,-62)(34.5,-62)(36,-62)(31.6,-62.9)(35.6,-62.7)
(30,-52.5)(31,-51.5)(28.5,-58)(32,-50)(38,-51.5)};
% 16
\addplot[pt=c16] coordinates {(-34.5,15)(-37,13.5)(-35.5,13.5)(-34,13.5)(-32,13.5)(-31,13.5)(-38,12)(-36.5,12)(-35,12)(-33.5,12)(-32,12)(-30.5,12)
(-40,12.2)(-38.5,10.5)(-37,10.5)(-35.5,10.5)(-34,10.5)(-32.5,10.5)(-31,10.5)(-29.5,10.5)(-41.7,10.6)(-40.5,9)(-39,9)(-37.5,9)(-36,9)(-34.5,9)(-33,9)(-31.5,9)(-30,9)(-28.5,9)
(-43,8.6)(-40.5,8)(-38.5,8)(-37,8)(-35.5,8)(-34,8)(-32.5,8)(-31,8)(-29.5,8)(-28,8)(-26,8)(-39,6.5)(-37.5,6.5)(-36,6.5)(-34.5,6.5)(-33,6.5)(-31.5,6.5)(-30,6.5)(-28,6.5)(-26,6.5)(-25,6.5)(-24,6.5)
(-37,5)(-35.5,5)(-34,5)(-32.5,5)(-31,5)(-29.5,5)(-40.7,5.2)(-39.5,3.5)(-37.5,3.5)(-36,3.5)(-33.5,3.5)(-32,3.5)(-30.5,3.5)(-29,3.5)
(-41.5,2.5)(-39.5,2.5)(-38,2.5)(-36.5,2.5)(-35,2.5)(-33,2.5)(-31.5,2.5)(-30,2.5)(-39,1)(-37.5,1)(-36.5,1)(-34.5,1)(-33,1)(-31.5,1)(-30,1)(-37.5,0.4)(-34.7,0.1)(-32.6,0.7)(-31.3,0.9)(-28,-0.4)
(-26,14.4)(-26.6,12.8)(-25.3,11.2)(-26.6,9.3)(-28.3,10.6)(-24,8.7)(-25.3,4.5)
(-35.3,17.9)(-31.2,18.4)(-33.7,16.1)(-39.7,16.3)(-22.3,18.3)(-22.3,17.6)(-27.4,27.5)(-27.7,25.5)(-47.2,2.5)(39.6,32.5)(10.5,-51.1)};
% 17
\addplot[pt=c17] coordinates {(11.3,-21.4)(9.5,-24)(11,-24)(12.5,-24)(14,-24)(17.9,-24.8)(8.5,-25.5)(10,-25.5)(11.5,-25.5)(13,-25.5)(15,-25.5)(20,-25.5)
(9,-27)(10.5,-27)(12,-27)(13.5,-27)(15,-27)(19,-27)(20.5,-27)(22,-27)(9.2,-27.9)(11,-28.5)(12.5,-28.5)(14,-28.5)(15.5,-28.5)(17.5,-28.5)(20.5,-28.5)(23,-28.5)
(11,-30)(12.5,-30)(14,-30)(15.5,-30)(17,-30)(22.1,-29.2)(12,-31.5)(13.5,-31.5)(15,-31.5)(16.5,-31.5)(18,-31.5)(12,-33)(13.5,-33)(15,-33)(16.5,-33)(21.2,-31.4)
(12.5,-34.5)(14,-34.5)(15.5,-34.5)(18,-34.5)(19.5,-33.5)(14.5,-36)(15.5,-35.5)(12.2,-32.3)(17.9,-33.9)(19.2,-32.6)(24,-30)
(12.5,-16.4)(13.2,-17.7)(-21.2,41.9)(-63.5,-22.8)(-62.6,-23.1)(3,-40.5)(3.5,-39.5)(4,-40.5)
(16,-26)(17,-27)(18.5,-29.5)(19,-31)(17,-26.5)(14,-26)};
% 18
\addplot[pt=c18] coordinates {(21,1)(23,2.5)(23,0.5)(24.5,3.5)(25,2)(25,0)(24,-1.5)(26.5,4)(26.5,2)(26.5,0)(26,-1.5)(28,3)(28,1.5)(28,0)(29.5,2)(29.5,0.5)(24.6,-3.1)(27,-2.5)(27,-4.4)(30,0.5)(26.6,3.9)
(22,1.5)(24,1)(26,1)(27.5,-1)(25,-2.5)(27,1)(29,-1)(22.5,-0.5)(24,4.5)
(24.9,6.8)(25.3,5.2)(26.4,7.7)(26.4,9.3)(26.4,11.4)(24.3,8.5)(24.5,12.8)(29.4,10.3)(20.4,7.1)(17.2,-3.1)(18,-3.1)(16.2,-4)(15.9,-9.9)(23.6,-9.1)(24.5,-8.5)
(19.2,-11)(18.9,-12.6)(18.2,-13.9)(20.9,-14.5)(22.9,-13.9)(27,-17.1)(29.3,-15.8)(33,-19.6)(30.2,-21.2)(33.3,-6.4)(31.3,-7)(32.8,-2.7)(37.1,-1.5)(38,-35.4)
(14.9,-4.3)(14.2,-6.9)(12.9,-6.9)(46.2,2.1)(49.8,11.2)(41,0.7)(37.1,-1.5)(30.8,-9.3)(32.6,-10.1)(30.6,-13)(29.1,-16)(32.8,-19.8)(30.1,-21.2)(31.6,-21.2)(33.9,-26.1)(38.4,-28.7)(41.6,-3.7)
(-43.5,-2.9)(-64.1,-11.8)(16.1,-50.7)(14.9,-52.7)(13.9,-51.4)(15.6,-55.4)(11,43)(7.5,40)(7.2,38.3)(7.9,37.7)(6.2,36)(0.1,34.3)(-1.5,20.5)};
% 19
\addplot[pt=c19] coordinates {(4.8,8.3)(6.8,8.3)(2.5,5.2)(5.5,7)(7,7)(8.5,7)(6,5.5)(7.5,5.5)(9,5.5)(-0.2,3.6)(2,4.3)(3.5,4.3)(5,4.3)(6.5,4.3)(9.2,4.3)
(-1.5,2.8)(0,2.8)(1.8,2.8)(3.3,2.8)(4.8,2.8)(6.3,2.8)(8,2.8)(9.5,2.8)(-2,1.2)(-0.5,1.2)(1,1.2)(2.5,1.2)(4,1.2)(5.5,1.2)(7,1.2)(8.5,1.2)(10,1.2)
(-3,-0.3)(-1.5,-0.3)(0,-0.3)(1.5,-0.3)(3,-0.3)(4.5,-0.3)(6,-0.3)(7.5,-0.3)(9.5,-0.3)(11,-0.3)(-2,-1.8)(-0.5,-1.8)(1,-1.8)(2.5,-1.8)(4,-1.8)(5.5,-1.8)(7,-1.8)(8.5,-1.8)(10,-1.8)(11.5,-1.8)
(-2,-3.3)(-0.5,-3.3)(1,-3.3)(2.5,-3.3)(4,-3.3)(5.5,-3.3)(7.5,-3.3)(9,-3.3)(10.5,-3.3)(12,-3.3)(-2.5,-4.8)(-1,-4.8)(0.5,-4.8)(2,-4.8)(3.5,-4.8)(5,-4.8)(6.5,-4.8)(8.5,-4.8)(10,-4.8)(11.5,-4.8)(13,-4.8)
(-4,-6.3)(-2.5,-6.3)(-1,-6.3)(0.5,-6.3)(3,-6.3)(4.5,-6.3)(6,-6.3)(8,-6.3)(9.5,-6.3)(11,-6.3)(13,-6.3)(14,-6.3)(1.5,-8)(3,-8)(4.5,-8)(6,-8)(8,-8)(9.5,-8)(11.3,-8)(13.5,-8)
(2,-9.5)(3.5,-9.5)(5,-9.5)(9,-9.5)(10.5,-9.5)(13.2,-8.6)(5.2,-10.4)(9.2,-10.3)(10.9,-10.2)
(-6,-7)(-4.5,-6.5)(-3.5,-7.5)(-8.6,-8.8)(-8.2,-9.8)(-4.5,-8.8)(-4,-10)(-3,-10.5)(-2.5,-11)(-1.5,-10.5)(-4,-12)(-3,-12.5)(-2,-12)(-1,-13)(-6.5,-15)(-5,-15.5)(-6,-14)(-4.8,-14.5)(-5.5,-16.5)
(-4,-18.5)(-3,-17.5)(-2.3,-16.5)(-1.5,-18)(-3,-19.5)(0.5,-17.5)(0,-19)(-1,-19.5)(1,-19)(-9.6,-17)(-9.4,-19.3)(0.5,-13.3)(2.2,-11.3)(3.5,-11)(5.5,-12)(8.2,11.2)(10.2,10)(11.5,10.6)(-20.2,-21.8)
(-25.9,23.8)(-18.3,27.9)(-22.5,23)(-22,22)(-22,20.5)(-22,19)(-21,18)(-22.5,21.5)(-21,21)(-19.4,25.2)(-24.3,13.5)(-23,10.6)(-22,9.3)(-21,8.4)(-24.3,10.3)(-23.3,10.3)(-21.6,7.1)
(-32.3,-8.2)(-25.3,-8.2)(-25.3,-21.9)(-23.3,-20.3)(-25.3,-19.6)(-23.6,-21.8)(-20.1,-21.8)(10.2,58.3)(11.4,59.2)(10.8,58.8)};
% 20
\addplot[pt=c20] coordinates {(23.5,70)(25.5,70)(21.7,68.5)(23,68.5)(24.5,68.5)(26,68.5)(27.3,69.2)(20.5,67)(22,67)(23.5,67)(25,67)(26.5,67)(27.8,67)(21.5,65.5)(23,65.5)(24.5,65.5)(26,65.5)(27.5,65.5)(28.6,65.7)
(17,64)(18.5,64)(20,64)(21.5,64)(23,64)(24.5,64)(26,64)(27,64)(16.5,62.5)(18,62.5)(19.5,62.5)(21.5,62.5)(23,62.5)(24.5,62.5)(26,62.5)(18,61)(21.5,61)(23,61)(24.5,61)(26,61)
(17.2,60.9)(19,60.5)(21,59.5)(22.5,59.5)(24,59.5)(25.5,59.5)(27,59.5)(20.2,59.3)(23,58.5)(24.5,58.5)(17.6,60.2)(26.3,58.3)(26.8,59)(29.6,62.8)(29.8,60.4)(19.9,67.9)
(22,70)(27,68)(28.5,67)(20,65.5)(19,65.5)(17,65.5)(16.5,64)(20,61)(19.8,62)(23,57.8)(25,57.6)(21,58.3)(28,63.5)(27.5,62.5)(27.5,61)(28,66)
(22.6,-15.2)(-38.3,16.6)(-39.5,-21.5)(-56.1,-26.1)(-40.4,-14.2)(-39.7,-13.9)(-41.7,-18.2)};
% strays on top
\addplot[pt=c3] coordinates {(29.6,-16.1)(31.3,9.1)(45.5,3.7)};
\addplot[pt=c7] coordinates {(36,-28)};
\addplot[pt=c1] coordinates {(-40.8,22.7)(-34,31.1)};
\addplot[pt=c11] coordinates {(36.2,-28.8)};
\addlegendimage{empty legend}
\addlegendentry{\hspace*{28bp}[0, 1, 2, 3, 4, 5, 6, 7, 8, 9, 10, 11, 12, 13, 14, 15, 16, 17, 18, 19, 20]}
\end{axis}
\end{tikzpicture}
\end{document}
